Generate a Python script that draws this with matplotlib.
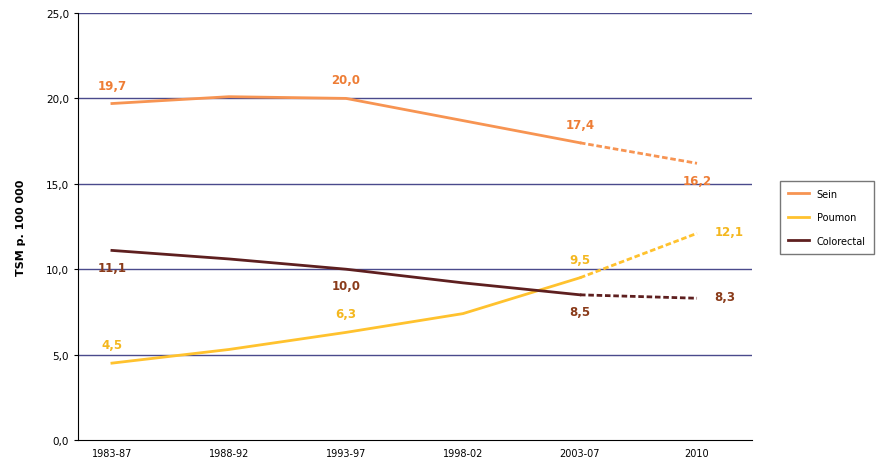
import matplotlib.pyplot as plt

periods = ['1983-87', '1988-92', '1993-97', '1998-02', '2003-07', '2010']
sein = [19.7, 20.1, 20.0, 18.7, 17.4, 16.2]
poumon = [4.5, 5.3, 6.3, 7.4, 9.5, 12.1]
colorectal = [11.1, 10.6, 10.0, 9.2, 8.5, 8.3]
yticks = [0, 5, 10, 15, 20, 25]

series = [
    ('Sein', sein, '#F79452', '#EE7D35', {0: 'above', 2: 'above', 4: 'above', 5: 'below'}),
    ('Poumon', poumon, '#FFC22E', '#F4B71E', {0: 'above', 2: 'above', 4: 'above', 5: 'right'}),
    ('Colorectal', colorectal, '#5E1F1F', '#8A3B1A', {0: 'below', 2: 'below', 4: 'below', 5: 'right'}),
]

fig = plt.figure(figsize=(8.83, 4.64), dpi=100)
ax = fig.add_axes([78/883, 23/464, 674/883, 427/464])
x = list(range(len(periods)))

for name, vals, col, lcol, labs in series:
    ax.plot(x[:5], vals[:5], color=col, lw=2, label=name)
    ax.plot(x[4:], vals[4:], color=col, lw=2, ls=(0, (2, 1)))
    for i, pos in labs.items():
        txt = f'{vals[i]:.1f}'.replace('.', ',')
        if pos == 'above':
            ax.text(x[i], vals[i] + 0.7, txt, ha='center', va='bottom', color=lcol, fontsize=8.5, fontweight='bold')
        elif pos == 'below':
            ax.text(x[i], vals[i] - 0.6, txt, ha='center', va='top', color=lcol, fontsize=8.5, fontweight='bold')
        else:
            ax.text(x[i] + 0.15, vals[i] + 0.1, txt, ha='left', va='center', color=lcol, fontsize=8.5, fontweight='bold')

ax.set_xlim(-0.29, 5.47)
ax.set_ylim(0, 25)
ax.set_yticks(yticks)
ax.set_yticklabels([f'{v:.1f}'.replace('.', ',') for v in yticks], fontsize=7.5)
ax.set_xticks(x)
ax.set_xticklabels(periods, fontsize=7)
ax.tick_params(axis='x', length=0, pad=6)
ax.tick_params(axis='y', length=3)
for v in yticks[1:]:
    ax.axhline(v, color='#4A4A8C', lw=1, zorder=0)
for s in ['top', 'right']:
    ax.spines[s].set_visible(False)
ax.set_ylabel('TSM p. 100 000', fontsize=8, fontweight='bold', labelpad=14)

handles = [plt.Line2D([], [], color=c, lw=2) for _, _, c, _, _ in series]
fig.legend(handles, [s[0] for s in series], loc='upper left', bbox_to_anchor=(775/883, 1 - 177/464),
           fontsize=7, frameon=True, fancybox=False, edgecolor='#555555', handlelength=2.2,
           labelspacing=1.4, borderpad=0.8)

fig.savefig('out.png', dpi=100)
